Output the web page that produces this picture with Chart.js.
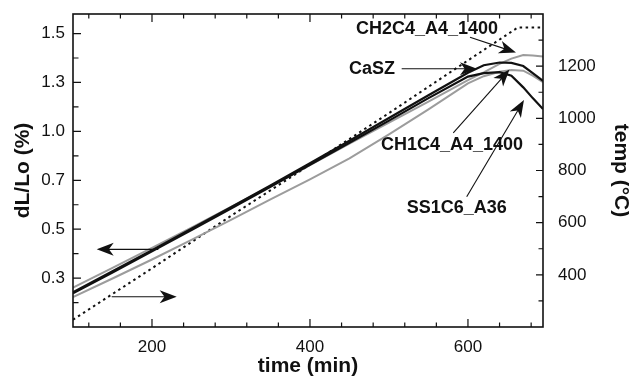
<!DOCTYPE html>
<html>
<head>
<meta charset="utf-8">
<script src="https://cdn.jsdelivr.net/npm/chart.js@4.4.1/dist/chart.umd.min.js"></script>
<style>
  html, body { margin: 0; padding: 0; background: #fff; }
  canvas { display: block; }
</style>
</head>
<body>
<canvas id="chart" width="629" height="379"></canvas>
<script>
/* dilatometry curves, dL/Lo (%) against time (min) */
const time   = [100, 150, 200, 250, 300, 350, 400, 450, 500, 550, 600, 620, 640, 655, 670, 682, 695];
const caSZ   = [0.178, 0.285, 0.393, 0.502, 0.612, 0.724, 0.837, 0.952, 1.068, 1.185, 1.300, 1.338, 1.352, 1.350, 1.334, 1.298, 1.258];
const ss1c6  = [0.172, 0.279, 0.387, 0.496, 0.606, 0.717, 0.829, 0.942, 1.055, 1.170, 1.280, 1.298, 1.303, 1.285, 1.225, 1.170, 1.114];
const ch2c4  = [0.201, 0.302, 0.404, 0.508, 0.614, 0.720, 0.828, 0.937, 1.045, 1.152, 1.262, 1.302, 1.345, 1.372, 1.390, 1.388, 1.383];
const ch1c4  = [0.153, 0.248, 0.345, 0.445, 0.548, 0.652, 0.755, 0.862, 0.985, 1.112, 1.245, 1.282, 1.305, 1.314, 1.310, 1.285, 1.252];

/* furnace temperature (right axis) */
const tempTime = [100, 200, 300, 400, 500, 600, 663, 695];
const tempC    = [228, 425, 626, 822, 1020, 1222, 1348, 1348];

/* axis ticks */
const xTicks          = [200, 400, 600];
const leftTicks       = [0.25, 0.5, 0.75, 1.0, 1.25, 1.5];
const leftTickLabels  = ['0.3', '0.5', '0.7', '1.0', '1.3', '1.5'];
const rightTicks      = [400, 600, 800, 1000, 1200];
const rightTickLabels = ['400', '600', '800', '1000', '1200'];

/* annotations, in (time, dL/Lo) units */
const notes = [
    {text: 'CH2C4_A4_1400', t: 638.0, v: 1.522, align: 'right'},
    {text: 'CaSZ',          t: 507.6, v: 1.319, align: 'right'},
    {text: 'CH1C4_A4_1400', t: 579.8, v: 0.930, align: 'center'},
    {text: 'SS1C6_A36',     t: 585.7, v: 0.608, align: 'center'}
];
const arrows = [
    {from: [208.0, 0.397], to: [130.0, 0.397]},
    {from: [149.0, 0.155], to: [231.3, 0.155]},
    {from: [602.6, 1.481], to: [660.8, 1.403]},
    {from: [516.1, 1.320], to: [611.4, 1.320]},
    {from: [581.4, 0.992], to: [652.6, 1.316]},
    {from: [598.4, 0.666], to: [670.9, 1.160]}
];

const FONT = "'Liberation Sans', Arial, Helvetica, sans-serif";
Chart.defaults.font.family = FONT;
Chart.defaults.color = '#111';

function pts(xs, ys) {
    return xs.map((x, i) => ({x: x, y: ys[i]}));
}

function arrowHead(ctx, x1, y1, x2, y2, len, half) {
    const ang = Math.atan2(y2 - y1, x2 - x1);
    ctx.save();
    ctx.translate(x2, y2);
    ctx.rotate(ang);
    ctx.beginPath();
    ctx.moveTo(0, 0);
    ctx.lineTo(-len, -half);
    ctx.lineTo(-len * 0.72, 0);
    ctx.lineTo(-len, half);
    ctx.closePath();
    ctx.fill();
    ctx.restore();
}

/* box round the plot with inward ticks on all four sides */
const framePlugin = {
    id: 'frame',
    afterDraw(chart) {
        const {ctx, chartArea: a, scales} = chart;
        ctx.save();
        ctx.strokeStyle = '#111';
        ctx.lineWidth = 1.2;
        ctx.beginPath();
        const xt = (v, len) => {
            const p = scales.x.getPixelForValue(v);
            ctx.moveTo(p, a.bottom); ctx.lineTo(p, a.bottom - len);
            ctx.moveTo(p, a.top);    ctx.lineTo(p, a.top + len);
        };
        xTicks.forEach(v => xt(v, 8));
        for (let v = 120; v < 695; v += 40) {
            if (v % 200 !== 0) xt(v, 4.5);
        }
        const yt = (v, len) => {
            const p = scales.y.getPixelForValue(v);
            ctx.moveTo(a.left, p); ctx.lineTo(a.left + len, p);
        };
        leftTicks.forEach(v => yt(v, 8));
        for (let v = 0.125; v < 1.6; v += 0.25) yt(v, 5.5);
        const rt = (v, len) => {
            const p = scales.y2.getPixelForValue(v);
            ctx.moveTo(a.right, p); ctx.lineTo(a.right - len, p);
        };
        rightTicks.forEach(v => rt(v, 7));
        for (let v = 300; v < 1400; v += 200) rt(v, 4.5);
        ctx.stroke();
        ctx.lineWidth = 1.6;
        ctx.strokeRect(a.left, a.top, a.right - a.left, a.bottom - a.top);
        ctx.restore();
    }
};

/* labels and arrows */
const notePlugin = {
    id: 'notes',
    afterDatasetsDraw(chart) {
        const {ctx, scales} = chart;
        const px = t => scales.x.getPixelForValue(t);
        const py = v => scales.y.getPixelForValue(v);
        ctx.save();
        ctx.fillStyle = '#111';
        ctx.strokeStyle = '#111';
        ctx.lineWidth = 1.1;
        arrows.forEach(ar => {
            const x1 = px(ar.from[0]), y1 = py(ar.from[1]);
            const x2 = px(ar.to[0]),   y2 = py(ar.to[1]);
            const d = Math.hypot(x2 - x1, y2 - y1);
            const k = (d - 10) / d;
            ctx.beginPath();
            ctx.moveTo(x1, y1);
            ctx.lineTo(x1 + (x2 - x1) * k, y1 + (y2 - y1) * k);
            ctx.stroke();
            arrowHead(ctx, x1, y1, x2, y2, 17, 6.5);
        });
        ctx.font = 'bold 18px ' + FONT;
        ctx.textBaseline = 'middle';
        notes.forEach(n => {
            ctx.textAlign = n.align;
            ctx.fillText(n.text, px(n.t), py(n.v));
        });
        ctx.restore();
    }
};

const blackLine = {borderColor: '#111', borderWidth: 2.2};
const grayLine  = {borderColor: '#9c9c9c', borderWidth: 2};

new Chart(document.getElementById('chart').getContext('2d'), {
    type: 'line',
    data: {
        datasets: [
            Object.assign({label: 'CaSZ', data: pts(time, caSZ), yAxisID: 'y'}, blackLine),
            Object.assign({label: 'SS1C6_A36', data: pts(time, ss1c6), yAxisID: 'y'}, blackLine),
            Object.assign({label: 'CH2C4_A4_1400', data: pts(time, ch2c4), yAxisID: 'y'}, grayLine),
            Object.assign({label: 'CH1C4_A4_1400', data: pts(time, ch1c4), yAxisID: 'y'}, grayLine),
            {label: 'temp', data: pts(tempTime, tempC), yAxisID: 'y2',
             borderColor: '#111', borderWidth: 2, borderDash: [2.5, 3.5]}
        ]
    },
    options: {
        responsive: false,
        animation: false,
        layout: {padding: {top: 14, right: 0, bottom: 0, left: 0}},
        plugins: {legend: {display: false}, tooltip: {enabled: false}},
        elements: {point: {radius: 0}, line: {tension: 0}},
        scales: {
            x: {
                type: 'linear', position: 'bottom', min: 100, max: 695,
                grid: {display: false, drawTicks: false}, border: {display: false},
                ticks: {includeBounds: false, padding: 10, font: {size: 17}},
                afterBuildTicks: s => { s.ticks = xTicks.map(v => ({value: v})); },
                title: {display: true, text: 'time (min)', font: {size: 21, weight: 'bold', lineHeight: 1},
                        padding: {top: 0, bottom: 2}},
                afterFit: s => { s.height = 52; s.paddingLeft = 0; s.paddingRight = 0; }
            },
            y: {
                type: 'linear', position: 'left', min: 0, max: 1.6,
                grid: {display: false, drawTicks: false}, border: {display: false},
                afterBuildTicks: s => { s.ticks = leftTicks.map(v => ({value: v})); },
                ticks: {padding: 8, font: {size: 17}, callback: (v, i) => leftTickLabels[i]},
                title: {display: true, text: 'dL/Lo (%)', font: {size: 21, weight: 'bold', lineHeight: 1},
                        padding: {top: 12.5, bottom: 0}},
                afterFit: s => { s.width = 73; s.paddingTop = 0; s.paddingBottom = 0; }
            },
            y2: {
                type: 'linear', position: 'right', min: 200, max: 1400,
                grid: {display: false, drawTicks: false}, border: {display: false},
                afterBuildTicks: s => { s.ticks = rightTicks.map(v => ({value: v})); },
                ticks: {padding: 15, font: {size: 17}, callback: (v, i) => rightTickLabels[i]},
                title: {display: true, text: 'temp (°C)', font: {size: 21, weight: 'bold', lineHeight: 1},
                        padding: {top: -2.5, bottom: 0}},
                afterFit: s => { s.width = 86; s.paddingTop = 0; s.paddingBottom = 0; }
            }
        }
    },
    plugins: [framePlugin, notePlugin]
});
</script>
</body>
</html>
